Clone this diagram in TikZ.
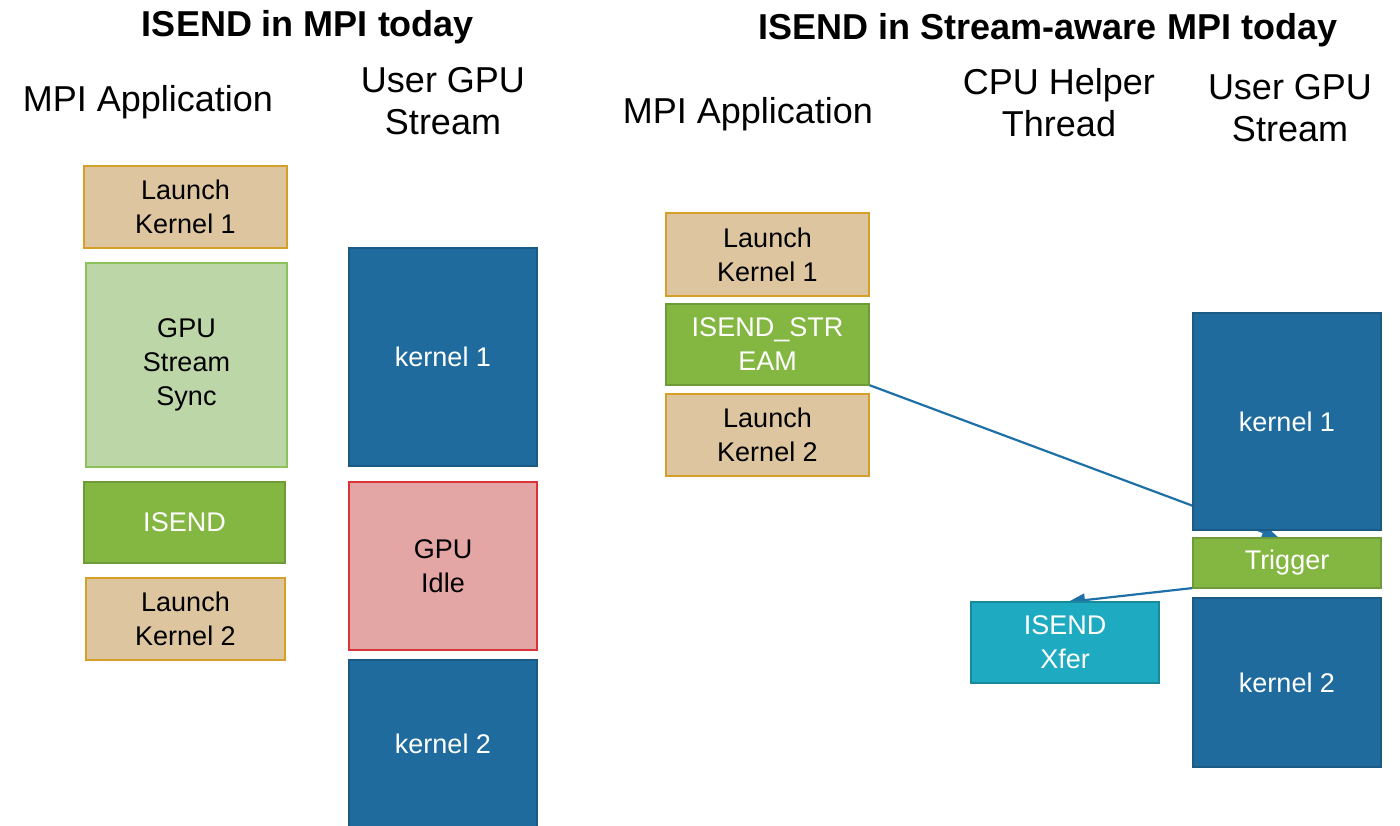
\documentclass[tikz,border=0pt]{standalone}
\usepackage{fontspec}
\setmainfont{Liberation Sans}
\usetikzlibrary{arrows.meta,backgrounds}
\definecolor{tanfill}{HTML}{DDC5A0}
\definecolor{tanline}{HTML}{D4A02A}
\definecolor{lgfill}{HTML}{BDD6A8}
\definecolor{lgline}{HTML}{8DC15A}
\definecolor{gfill}{HTML}{84B741}
\definecolor{gline}{HTML}{6F9A3A}
\definecolor{bfill}{HTML}{1F6B9D}
\definecolor{bline}{HTML}{1A5A85}
\definecolor{rfill}{HTML}{E4A5A5}
\definecolor{rline}{HTML}{D9343A}
\definecolor{tfill}{HTML}{1EAAC0}
\definecolor{tline}{HTML}{188A9C}
\definecolor{arrowc}{HTML}{2070A8}
\tikzset{
  box/.style={draw, line width=1.8pt, inner sep=0pt, outer sep=0pt, align=center,
    font=\fontsize{27}{34}\selectfont},
  launch/.style={box, fill=tanfill, draw=tanline, text=black},
  syncbox/.style={box, fill=lgfill, draw=lgline, text=black, line width=1.4pt},
  isendbox/.style={box, fill=gfill, draw=gline, text=white},
  kernelbox/.style={box, fill=bfill, draw=bline, text=white},
  idlebox/.style={box, fill=rfill, draw=rline, text=black},
  xferbox/.style={box, fill=tfill, draw=tline, text=white},
  heading/.style={align=center, inner sep=0pt, font=\fontsize{36}{42}\selectfont},
  titletext/.style={align=center, inner sep=0pt, font=\bfseries\fontsize{36}{42}\selectfont},
  conn/.style={draw=arrowc, line width=2.2pt, -{Triangle[length=17pt,width=13pt]}}
}
\newcommand\drawbox[7]{\node[#6, minimum width={#4-#2}, minimum height={#5-#3}] (#1) at ({(#2+#4)/2},{(#3+#5)/2}) {#7};}
\begin{document}
\begin{tikzpicture}[x=1pt,y=-1pt]
\useasboundingbox (0,0) rectangle (1400,826);
% titles and headings
\node[titletext] (t1) at (308,27) {ISEND in MPI today};
\node[titletext] (t2) at (1048,30) {ISEND in Stream-aware MPI today};
\node[heading] (h1) at (148,102) {MPI Application};
\node[heading] (h2) at (443,101) {User GPU\\Stream};
\node[heading] (h3) at (748,114) {MPI Application};
\node[heading] (h4) at (1059,103) {CPU Helper\\Thread};
\node[heading] (h5) at (1290,108) {User GPU\\Stream};
% left diagram
\drawbox{lk1}{84}{166}{287}{248}{launch}{Launch\\Kernel 1}
\drawbox{sync}{86}{263}{287}{467}{syncbox}{GPU\\Stream\\Sync}
\drawbox{isend}{84}{482}{285}{563}{isendbox}{ISEND}
\drawbox{lk2}{86}{578}{285}{660}{launch}{Launch\\Kernel 2}
\drawbox{k1}{349}{248}{537}{466}{kernelbox}{kernel 1}
\drawbox{idle}{349}{482}{537}{650}{idlebox}{GPU\\Idle}
\drawbox{k2}{349}{660}{537}{834}{kernelbox}{\raisebox{6pt}{kernel 2}}
% right diagram
\drawbox{rlk1}{666}{213}{869}{296}{launch}{Launch\\Kernel 1}
\drawbox{ris}{666}{304}{869}{385}{isendbox}{ISEND\_STR\\EAM}
\drawbox{rlk2}{666}{394}{869}{476}{launch}{Launch\\Kernel 2}
\drawbox{rk1}{1193}{313}{1381}{530}{kernelbox}{kernel 1}
\drawbox{trig}{1193}{538}{1381}{588}{isendbox}{\raisebox{-3pt}{Trigger}}
\drawbox{rk2}{1193}{598}{1381}{767}{kernelbox}{kernel 2}
\drawbox{xfer}{971}{602}{1159}{683}{xferbox}{ISEND\\Xfer}
% connectors (behind boxes)
\begin{pgfonlayer}{background}
\draw[conn] (ris.south east) -- ([xshift=-8pt]trig.north);
\draw[conn] (trig.south west) -- ([xshift=3pt]xfer.north);
\end{pgfonlayer}
\end{tikzpicture}
\end{document}
